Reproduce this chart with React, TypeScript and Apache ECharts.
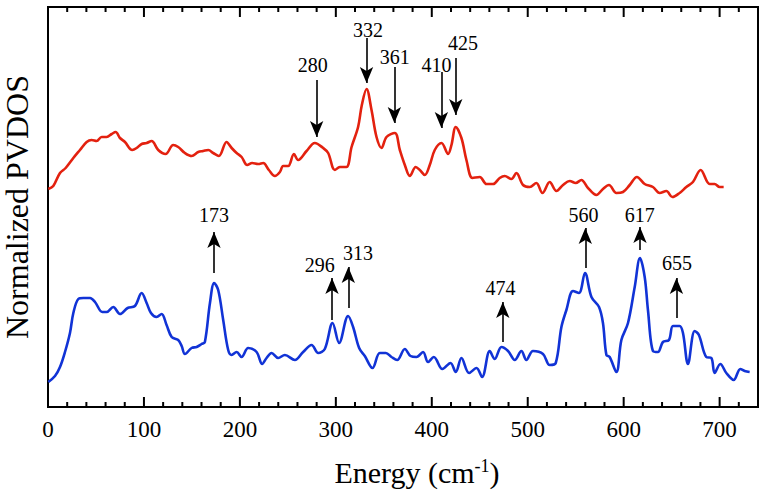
import React, { useEffect, useRef } from "react";
import * as echarts from "echarts";

// Energy (cm^-1) and normalized PVDOS (arbitrary units)
const redEnergy = [0.3, 5.5, 12.5, 18.4, 26.4, 33.3, 40.3, 45.5, 50.7, 55.9, 61.1, 66.4, 70.5, 75, 80.2, 87.8, 92.4, 97.6, 102.8, 108, 114.9, 122.6, 130.5, 135.7, 142.7, 149.7, 156.6, 161.8, 167, 172.2, 178.1, 186.1, 191.4, 196.6, 201.8, 207.6, 212.8, 219, 224.3, 230.2, 236.5, 241.7, 245.1, 250.3, 256.3, 260.7, 269.5, 278.1, 286.8, 292, 299, 304.2, 311.1, 316.4, 323.2, 327.1, 332, 337.2, 342.4, 347.6, 352.8, 361.5, 366.7, 371.9, 377.1, 383.3, 387.5, 392.7, 397.9, 403.1, 410.1, 417, 420.5, 425, 430.9, 436.1, 442.4, 450, 457, 463.9, 470.8, 476, 483, 488.2, 495.1, 502.1, 509, 515.3, 522.9, 529.9, 536.8, 543.8, 550, 555.9, 562.8, 571.6, 578.4, 584.7, 592.4, 599.3, 606.3, 613.8, 621.9, 630.5, 637.5, 644.5, 650.7, 658.3, 665.3, 672.2, 680.2, 689.6, 694.8, 700, 704.2];
const redPvdos = [218, 221, 234, 239, 249, 257, 265, 267, 266, 270, 270, 273, 275, 269, 265, 257, 259, 263, 264, 266, 257, 253, 262, 260, 254, 251, 255, 256, 257, 254, 251, 265, 259, 254, 250, 242, 244, 243, 244, 237, 231, 235, 241, 241, 253, 247, 256, 264, 259, 254, 237, 240, 240, 260, 280, 302, 318, 297, 270, 259, 270, 274, 257, 242, 231, 240, 237, 232, 242, 257, 264, 253, 262, 280, 269, 247, 229, 230, 223, 223, 229, 231, 228, 234, 222, 220, 224, 214, 225, 216, 222, 226, 224, 227, 219, 212, 218, 222, 214, 215, 222, 230, 223, 220, 214, 216, 210, 214, 220, 225, 237, 223, 223, 220, 220];

const blueEnergy = [0.3, 7.3, 12.5, 17.7, 22.9, 26.4, 31.6, 36.8, 43.8, 49, 56.6, 61.1, 68, 75, 83, 90.6, 97.6, 102.8, 107.3, 113.2, 118.4, 123.6, 128.9, 135.7, 139.3, 142.7, 149.7, 154.9, 160.1, 163.5, 168.8, 173.2, 177.4, 182.6, 187.8, 191.4, 196.6, 201.8, 208.6, 217.4, 223.2, 227.8, 233, 239.9, 246.9, 257.3, 265.9, 274.7, 281.6, 288.5, 296.6, 303.4, 312.8, 318, 324.3, 330.2, 338.2, 345.8, 352.1, 358, 363.9, 371.9, 377.8, 384.1, 390.9, 396.1, 402.1, 411.1, 419.5, 425, 430.9, 438.9, 446.6, 452.4, 460.4, 465.6, 472.6, 479.5, 486.5, 493.4, 498.6, 505.5, 515.9, 522.9, 529.2, 535.1, 540.3, 547.2, 553.4, 559.7, 566.4, 574.3, 578.4, 582, 585.4, 592.4, 597.6, 604.5, 611.5, 617, 621.9, 625.3, 630.5, 635.7, 640.9, 647.2, 651.4, 658.3, 661.8, 667, 674, 678.4, 686.1, 691.4, 694.8, 700.7, 707, 714.6, 721.6, 726.1, 731.3];
const bluePvdos = [25, 31, 40, 55, 74, 94, 108, 109, 109, 105, 95, 95, 100, 93, 99, 101, 114, 104, 94, 90, 93, 82, 70, 67, 61, 53, 59, 60, 63, 65, 104, 124, 117, 87, 57, 52, 55, 50, 59, 55, 43, 49, 54, 49, 52, 47, 55, 62, 54, 58, 84, 64, 91, 80, 59, 51, 39, 54, 54, 50, 47, 58, 51, 50, 55, 45, 50, 38, 44, 35, 49, 34, 39, 30, 56, 48, 60, 56, 47, 56, 47, 56, 53, 42, 44, 80, 97, 116, 114, 134, 110, 100, 84, 52, 50, 35, 67, 84, 120, 149, 130, 97, 56, 55, 65, 67, 81, 81, 74, 43, 76, 72, 50, 49, 34, 43, 34, 27, 38, 36, 35];

// Annotated peaks (cm^-1)
const redPeaks = [280, 332, 361, 410, 425];
const redArrowTop = [327, 369, 340, 335, 349];
const redArrowTip = [270, 324, 284, 279, 292];
const redLabelX = [276, 333.6, 361.5, 405, 432.6];
const redLabelY = [342, 377, 350, 342, 364];

const bluePeaks = [173, 296, 313, 474, 560, 617, 655];
const blueArrowTail = [134, 87, 99, 65, 139, 157, 89];
const blueArrowTip = [175, 129, 140, 105, 179, 180, 129];
const blueLabelX = [173, 283.3, 323.2, 471.6, 558, 616.7, 655.5];
const blueLabelY = [192, 142, 154, 119, 192, 192, 144];

// Axis ticks
const xTicks = [0, 100, 200, 300, 400, 500, 600, 700];
const majorTicks = [100, 200, 300, 400, 500, 600, 700];
const minorTicks = [20, 40, 60, 80, 120, 140, 160, 180, 220, 240, 260, 280, 320, 340, 360, 380, 420, 440, 460, 480, 520, 540, 560, 580, 620, 640, 660, 680, 720];

const SERIF = "'Liberation Serif', 'Times New Roman', serif";

export default function App() {
  const ref = useRef<HTMLDivElement>(null);
  useEffect(() => {
    if (!ref.current) return;
    const chart = echarts.init(ref.current, null, { renderer: "svg" });
    const pair = (xs: number[], ys: number[]) => xs.map((x, i) => [x, ys[i]]);
    const arrowStyle = { color: "#000", width: 1.6, type: "solid" as const };
    const endArrow = (x: number, y: number) => ({
      coord: [x, y],
      symbol: "arrow",
      symbolSize: [10, 16],
    });
    chart.setOption({
      animation: false,
      grid: {
        left: 48,
        right: 9,
        top: 7,
        bottom: 83,
        containLabel: false,
        outerBoundsMode: "none",
        show: true,
        borderColor: "#000",
        borderWidth: 2,
        backgroundColor: "transparent",
      },
      xAxis: {
        type: "value",
        min: 0,
        max: 740,
        interval: 100,
        splitLine: { show: false },
        axisLine: { show: true, onZero: false, lineStyle: { color: "#000", width: 2 } },
        axisTick: { show: false },
        axisLabel: {
          color: "#000",
          fontFamily: SERIF,
          fontSize: 23,
          margin: 11,
          showMaxLabel: false,
          formatter: (v: number) => (xTicks.includes(v) ? String(v) : ""),
        },
        name: "{a|Energy (cm}{b|-1}{a|)}",
        nameLocation: "middle",
        nameGap: 50,
        nameTextStyle: {
          padding: [0, 0, 0, 28],
          rich: {
            a: { fontFamily: SERIF, fontSize: 30, color: "#000" },
            b: { fontFamily: SERIF, fontSize: 18, color: "#000", verticalAlign: "top" },
          },
        },
      },
      yAxis: {
        type: "value",
        min: 0,
        max: 400,
        axisLine: { show: true, lineStyle: { color: "#000", width: 2 } },
        axisTick: { show: false },
        axisLabel: { show: false },
        splitLine: { show: false },
        name: "Normalized PVDOS",
        nameLocation: "middle",
        nameRotate: 90,
        nameGap: 15,
        nameTextStyle: { fontFamily: SERIF, fontSize: 32, color: "#000" },
      },
      series: [
        {
          type: "custom",
          silent: true,
          clip: false,
          z: 5,
          encode: { x: 0, y: 1 },
          data: [
            ...majorTicks.map((v) => [v, 0, 1]),
            ...minorTicks.map((v) => [v, 0, 0]),
          ],
          renderItem: (_p: any, api: any) => {
            const v = api.value(0);
            const len = api.value(2) ? 10 : 5;
            const b = api.coord([v, 0]);
            const t = api.coord([v, 400]);
            const style = { stroke: "#000", lineWidth: 2, fill: null };
            return {
              type: "group",
              children: [
                { type: "line", shape: { x1: b[0], y1: b[1], x2: b[0], y2: b[1] - len }, style },
                { type: "line", shape: { x1: t[0], y1: t[1], x2: t[0], y2: t[1] + len }, style },
              ],
            };
          },
        },
        {
          type: "line",
          data: pair(redEnergy, redPvdos),
          showSymbol: false,
          smooth: 0.35,
          lineStyle: { color: "#e3210f", width: 2.6 },
          markLine: {
            silent: true,
            symbol: ["none", "arrow"],
            lineStyle: arrowStyle,
            label: { show: false },
            data: redPeaks.map((p, i) => [
              { coord: [p, redArrowTop[i]], symbol: "none" },
              endArrow(p, redArrowTip[i]),
            ]),
          },
        },
        {
          type: "line",
          data: pair(blueEnergy, bluePvdos),
          showSymbol: false,
          smooth: 0.35,
          lineStyle: { color: "#1133d6", width: 2.6 },
          markLine: {
            silent: true,
            symbol: ["none", "arrow"],
            lineStyle: arrowStyle,
            label: { show: false },
            data: bluePeaks.map((p, i) => [
              { coord: [p, blueArrowTail[i]], symbol: "none" },
              endArrow(p, blueArrowTip[i]),
            ]),
          },
        },
        {
          type: "scatter",
          symbolSize: 0,
          silent: true,
          itemStyle: { opacity: 1 },
          data: [
            ...redPeaks.map((p, i) => [redLabelX[i], redLabelY[i], p]),
            ...bluePeaks.map((p, i) => [blueLabelX[i], blueLabelY[i], p]),
          ],
          label: {
            show: true,
            position: "inside",
            formatter: (prm: any) => String(prm.value[2]),
            fontFamily: SERIF,
            fontSize: 20,
            color: "#000",
            opacity: 1,
            textBorderWidth: 0,
            textBorderColor: "transparent",
          },
        },
      ],
    });
    return () => chart.dispose();
  }, []);
  return (
    <div
      ref={ref}
      style={{ position: "absolute", left: 0, top: 0, width: 767, height: 490 }}
    />
  );
}
